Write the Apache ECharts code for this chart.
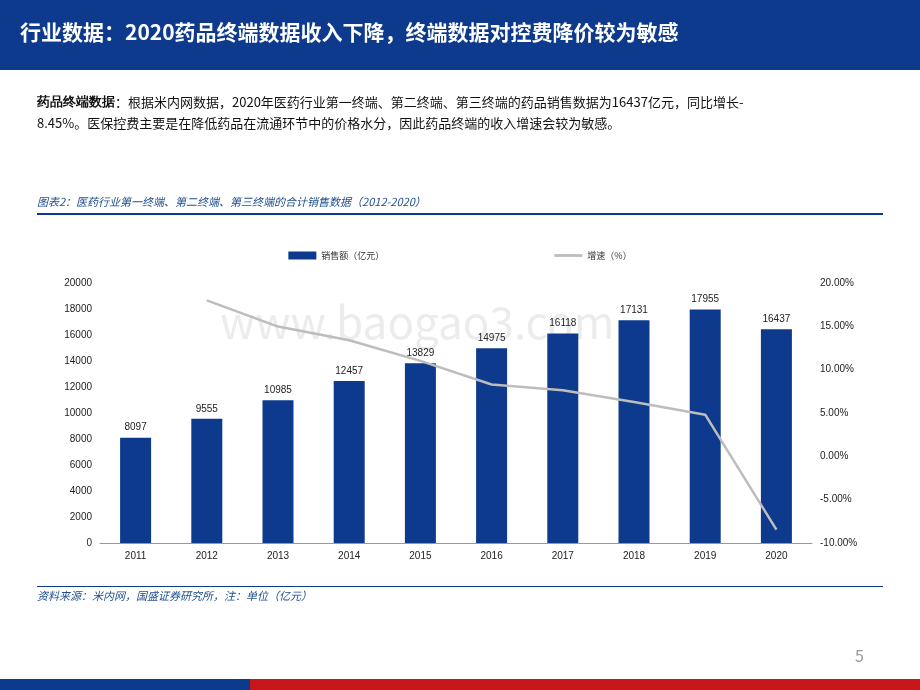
<!DOCTYPE html>
<html><head><meta charset="utf-8">
<script src="https://cdn.jsdelivr.net/npm/echarts@6/dist/echarts.min.js"></script>
<style>html,body{margin:0;padding:0;background:#fff}#c{width:920px;height:690px}</style>
</head><body><div id="c"></div>
<script>
var years = ['2011','2012','2013','2014','2015','2016','2017','2018','2019','2020'];
var sales = [8097, 9555, 10985, 12457, 13829, 14975, 16118, 17131, 17955, 16437];
var growth = [null, 18.00, 14.97, 13.40, 11.01, 8.29, 7.63, 6.28, 4.81, -8.45];

var font = '"Noto Sans CJK SC", "Liberation Sans", sans-serif';
var numFont = '"Liberation Sans", Arial, sans-serif';
var chart = echarts.init(document.getElementById('c'));

var option = {
    animation: false,
    textStyle: { fontFamily: font },
    graphic: [
        { type: 'rect', shape: { x: 0, y: 0, width: 920, height: 70 }, style: { fill: '#0d3a8c' } },
        { type: 'text', left: 20, top: 22, style: { text: '行业数据：2020药品终端数据收入下降，终端数据对控费降价较为敏感', fill: '#fff', font: 'bold 21px ' + font } },
        { type: 'text', left: 37, top: 92, style: { text: '{b|药品终端数据}：根据米内网数据，2020年医药行业第一终端、第二终端、第三终端的药品销售数据为16437亿元，同比增长-\n8.45%。医保控费主要是在降低药品在流通环节中的价格水分，因此药品终端的收入增速会较为敏感。', fill: '#111', font: '13px ' + font, lineHeight: 21, rich: { b: { fontWeight: 'bold', fontSize: 13 } } } },
        { type: 'text', left: 37, top: 196, style: { text: '图表2：医药行业第一终端、第二终端、第三终端的合计销售数据（2012-2020）', fill: '#1f4e8c', font: 'italic 11px ' + font } },
        { type: 'rect', shape: { x: 37, y: 213, width: 846, height: 2 }, style: { fill: '#0d3a8c' } },
        { type: 'rect', shape: { x: 37, y: 586, width: 846, height: 1 }, style: { fill: '#0d3a8c' } },
        { type: 'text', left: 37, top: 590, style: { text: '资料来源：米内网，国盛证券研究所，注：单位（亿元）', fill: '#1f4e8c', font: 'italic 11px ' + font } },
        { type: 'text', left: 855, top: 648, style: { text: '5', fill: '#999', font: '16px ' + font } },
        { type: 'rect', shape: { x: 0, y: 679, width: 250, height: 11 }, style: { fill: '#0d3a8c' } },
        { type: 'rect', shape: { x: 250, y: 679, width: 670, height: 11 }, style: { fill: '#c8161d' } },
        { type: 'text', left: 220, top: 300, z: -1, style: { text: 'www.baogao3.com', fill: 'rgba(200,200,200,0.35)', font: '44px ' + font } }
    ],
    legend: {
        top: 246, left: 'center', itemGap: 170, itemWidth: 28, itemHeight: 8,
        textStyle: { fontSize: 9, color: '#333' },
        data: [{ name: '销售额（亿元）', icon: 'rect' }, { name: '增速（%）', icon: 'path://M0,0H10V1H0Z' }]
    },
    grid: { left: 100, right: 108, top: 283, bottom: 147 },
    xAxis: {
        type: 'category', data: years,
        axisLine: { lineStyle: { color: '#999' } }, axisTick: { show: false },
        axisLabel: { color: '#222', fontSize: 10, fontFamily: numFont }
    },
    yAxis: [
        { type: 'value', min: 0, max: 20000, interval: 2000, splitLine: { show: false },
          axisLabel: { color: '#222', fontSize: 10, fontFamily: numFont, formatter: function (v) { return String(v); } } },
        { type: 'value', min: -10, max: 20, interval: 5, splitLine: { show: false },
          axisLabel: { color: '#222', fontSize: 10, fontFamily: numFont, formatter: function (v) { return v.toFixed(2) + '%'; } } }
    ],
    series: [
        { name: '销售额（亿元）', type: 'bar', data: sales, barWidth: 31,
          itemStyle: { color: '#0d3a8c' },
          label: { show: true, position: 'top', color: '#222', fontSize: 10, fontFamily: numFont } },
        { name: '增速（%）', type: 'line', yAxisIndex: 1, data: growth, symbol: 'none',
          lineStyle: { color: '#bdbdbd', width: 2.5 }, itemStyle: { color: '#bdbdbd' } }
    ]
};
chart.setOption(option);
</script></body></html>
